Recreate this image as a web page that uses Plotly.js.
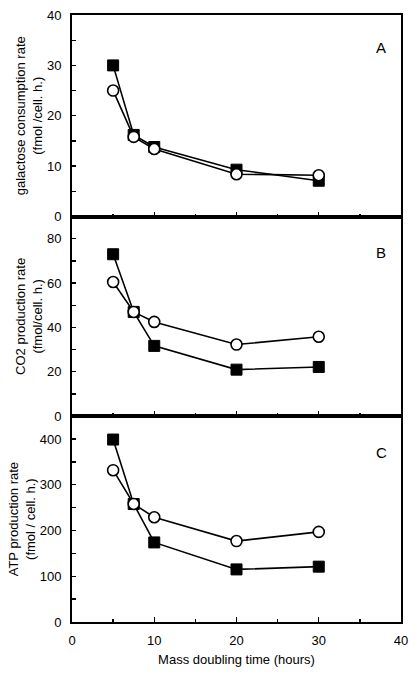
<!DOCTYPE html>
<html>
<head>
<meta charset="utf-8">
<script src="https://cdn.plot.ly/plotly-3.0.1.min.js"></script>
<style>html,body{margin:0;padding:0;background:#fff;}#chart{width:418px;height:679px;}</style>
</head>
<body>
<div id="chart"></div>
<script>
// Mass doubling time (hours)
const doublingTime = [5, 7.5, 10, 20, 30];

// Panel A: galactose consumption rate (fmol / cell. h.)
const galactoseSquares = [30, 16.2, 13.8, 9.3, 7.1];
const galactoseCircles = [25, 15.8, 13.4, 8.4, 8.2];

// Panel B: CO2 production rate (fmol/cell. h.)
const co2Squares = [73, 47, 31.7, 21, 22.2];
const co2Circles = [60.5, 47, 42.5, 32.3, 35.8];

// Panel C: ATP production rate (fmol / cell. h.)
const atpSquares = [399, 258, 174, 115, 121];
const atpCircles = [332, 258, 229, 177, 197];

const panelLetters = ['A', 'B', 'C'];
const yTitles = [
  'galactose consumption rate<br>(fmol /cell. h.)',
  'CO2 production rate<br>(fmol/cell. h.)',
  'ATP production rate<br>(fmol / cell. h.)'
];

const font = {family: 'Liberation Sans, Arial, sans-serif', size: 13, color: '#000'};

function sqTrace(y, xa, ya) {
  return {x: doublingTime, y: y, xaxis: xa, yaxis: ya, type: 'scatter', mode: 'lines+markers',
    line: {color: '#000', width: 1.6},
    marker: {symbol: 'square', size: 11, color: '#000', line: {color: '#000', width: 1}},
    showlegend: false, hoverinfo: 'skip'};
}
function ciTrace(y, xa, ya) {
  return {x: doublingTime, y: y, xaxis: xa, yaxis: ya, type: 'scatter', mode: 'lines+markers',
    line: {color: '#000', width: 1.6},
    marker: {symbol: 'circle', size: 11, color: '#fff', line: {color: '#000', width: 1.6}},
    showlegend: false, hoverinfo: 'skip'};
}

const data = [
  sqTrace(galactoseSquares, 'x', 'y'), ciTrace(galactoseCircles, 'x', 'y'),
  sqTrace(co2Squares, 'x2', 'y2'), ciTrace(co2Circles, 'x2', 'y2'),
  sqTrace(atpSquares, 'x3', 'y3'), ciTrace(atpCircles, 'x3', 'y3')
];

function xAxis(anchor, labels) {
  return {anchor: anchor, range: [0, 40], dtick: 10, tick0: 0,
    ticks: 'inside', ticklen: 5, tickwidth: 1.3, tickcolor: '#000',
    minor: {dtick: 5, ticks: 'inside', ticklen: 3, tickwidth: 1.3, tickcolor: '#000'},
    showline: true, linecolor: '#000', linewidth: 2, mirror: true,
    showgrid: false, zeroline: false, showticklabels: labels,
    tickfont: font, ticklabelstandoff: 5};
}
function yAxis(domain, range, dtick, minor, title, anchor) {
  return {anchor: anchor, domain: domain, range: range, dtick: dtick, tick0: 0,
    ticks: 'inside', ticklen: 4, tickwidth: 1.3, tickcolor: '#000',
    minor: {dtick: minor, ticks: 'inside', ticklen: 4, tickwidth: 1.3, tickcolor: '#000'},
    showline: true, linecolor: '#000', linewidth: 2, mirror: true,
    showgrid: false, zeroline: false, tickfont: font, ticklabelstandoff: 6,
    title: {text: title, font: font, standoff: 1}};
}

const layout = {
  width: 418, height: 679,
  margin: {l: 72, r: 17, t: 15, b: 57},
  paper_bgcolor: '#fff', plot_bgcolor: '#fff',
  font: font,
  xaxis: xAxis('y', false),
  xaxis2: xAxis('y2', false),
  xaxis3: Object.assign(xAxis('y3', true), {title: {text: 'Mass doubling time (hours)', font: font, standoff: 8}}),
  yaxis: yAxis([0.668, 1], [0, 40], 10, 5, yTitles[0], 'x'),
  yaxis2: yAxis([0.339, 0.668], [0, 90], 20, 10, yTitles[1], 'x2'),
  yaxis3: yAxis([0, 0.339], [0, 450], 100, 50, yTitles[2], 'x3'),
  annotations: [
    {text: panelLetters[0], xref: 'x', yref: 'y domain', x: 37.6, y: 0.89, showarrow: false, font: {family: font.family, size: 15, color: '#000'}},
    {text: panelLetters[1], xref: 'x2', yref: 'y2 domain', x: 37.6, y: 0.87, showarrow: false, font: {family: font.family, size: 15, color: '#000'}},
    {text: panelLetters[2], xref: 'x3', yref: 'y3 domain', x: 37.6, y: 0.875, showarrow: false, font: {family: font.family, size: 15, color: '#000'}}
  ]
};

Plotly.newPlot('chart', data, layout, {displayModeBar: false, staticPlot: true});
</script>
</body>
</html>
